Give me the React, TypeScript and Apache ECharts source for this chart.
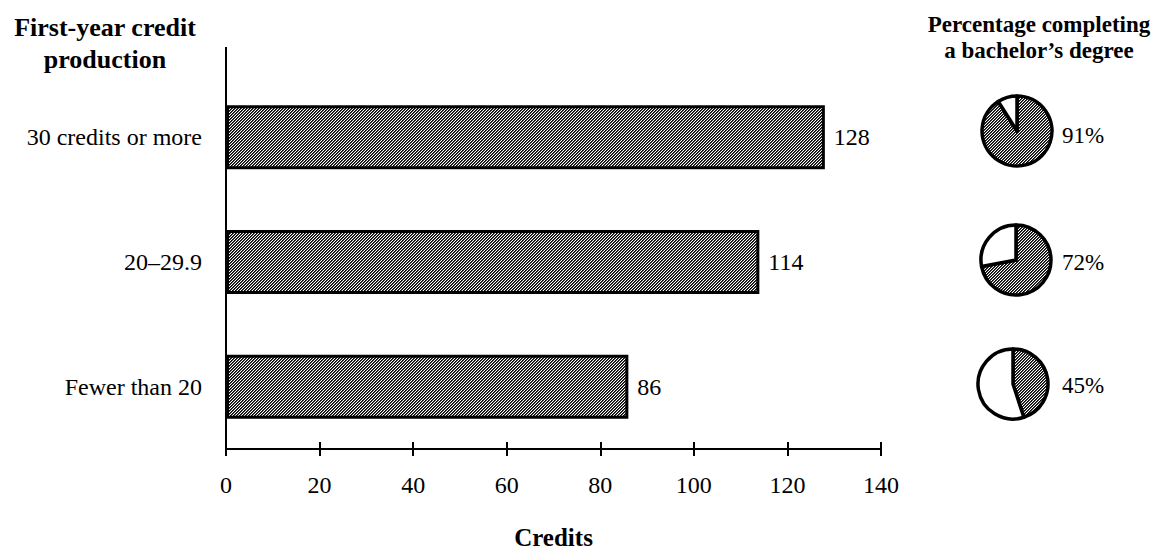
import React, { useEffect, useRef } from "react";
import * as echarts from "echarts";

const categories = ["30 credits or more", "20–29.9", "Fewer than 20"];
const credits = [128, 114, 86];
const completionPct = [91, 72, 45];
const axisMin = 0;
const axisMax = 140;
const axisStep = 20;

const FONT = "'Liberation Serif', 'Times New Roman', serif";
const W = 1153;
const H = 552;
const GRID = { left: 226, right: 272, top: 75, bottom: 103 };
const PIE_R = 35;
const pieCenters: [number, number][] = [
  [1017, 131],
  [1016, 260],
  [1013, 384],
];
const pctLabelPos: [number, number][] = [
  [1062, 135],
  [1062, 262],
  [1062, 385],
];

function makeHatch(): HTMLCanvasElement {
  const c = document.createElement("canvas");
  c.width = 3;
  c.height = 3;
  const ctx = c.getContext("2d")!;
  const img = ctx.createImageData(3, 3);
  for (let y = 0; y < 3; y++) {
    for (let x = 0; x < 3; x++) {
      const k = (x + y) % 3;
      const v = k === 0 ? 0 : k === 1 ? 70 : 255;
      const i = (y * 3 + x) * 4;
      img.data[i] = v;
      img.data[i + 1] = v;
      img.data[i + 2] = v;
      img.data[i + 3] = 255;
    }
  }
  ctx.putImageData(img, 0, 0);
  return c;
}

export default function App() {
  const ref = useRef<HTMLDivElement>(null);

  useEffect(() => {
    document.body.style.margin = "0";
    if (!ref.current) return;
    const chart = echarts.init(ref.current, undefined, { renderer: "svg" });
    const hatch: any = { image: makeHatch(), repeat: "repeat" };

    const pieSeries = completionPct.map((p, i) => ({
      type: "pie",
      center: pieCenters[i],
      radius: PIE_R,
      startAngle: 90,
      clockwise: true,
      silent: true,
      label: { show: false },
      labelLine: { show: false },
      itemStyle: { borderColor: "#000", borderWidth: 3.5 },
      emphasis: { disabled: true },
      data: [
        { value: p, name: "completing", itemStyle: { color: hatch } },
        { value: 100 - p, name: "not completing", itemStyle: { color: "#fff" } },
      ],
    }));

    const pctTexts = completionPct.map((p, i) => ({
      type: "text",
      x: pctLabelPos[i][0],
      y: pctLabelPos[i][1],
      style: {
        text: `${p}%`,
        font: `23px ${FONT}`,
        fill: "#000",
        textAlign: "left",
        textVerticalAlign: "middle",
      },
    }));

    chart.setOption({
      animation: false,
      grid: { ...GRID, containLabel: false, outerBoundsMode: "none" },
      xAxis: [
        {
          type: "value",
          min: axisMin,
          max: axisMax,
          interval: axisStep,
          position: "bottom",
          axisLine: { show: true, lineStyle: { color: "#000", width: 2 } },
          axisTick: { show: true, length: 7, lineStyle: { color: "#000", width: 2 } },
          axisLabel: { color: "#000", fontSize: 24, fontFamily: FONT, margin: 24 },
          splitLine: { show: false },
          name: "Credits",
          nameLocation: "middle",
          nameGap: 76,
          nameTextStyle: { color: "#000", fontSize: 25, fontWeight: "bold", fontFamily: FONT },
        },
        {
          type: "value",
          min: axisMin,
          max: axisMax,
          interval: axisStep,
          position: "bottom",
          axisLine: { show: false },
          axisTick: { show: true, inside: true, length: 7, lineStyle: { color: "#000", width: 2 } },
          axisLabel: { show: false },
          splitLine: { show: false },
        },
      ],
      yAxis: {
        type: "category",
        data: categories,
        inverse: true,
        axisLine: { show: false },
        axisTick: { show: false },
        axisLabel: { color: "#000", fontSize: 24, fontFamily: FONT, margin: 24 },
      },
      series: [
        {
          type: "bar",
          data: credits,
          barWidth: 64,
          silent: true,
          itemStyle: { color: hatch, borderColor: "#000", borderWidth: 3 },
          label: {
            show: true,
            position: "right",
            distance: 9,
            color: "#000",
            fontSize: 24,
            fontFamily: FONT,
          },
        },
        ...pieSeries,
      ],
      graphic: [
        {
          type: "line",
          shape: { x1: GRID.left, y1: 47, x2: GRID.left, y2: 455 },
          style: { stroke: "#000", lineWidth: 2 },
        },
        {
          type: "text",
          x: 105,
          y: 27,
          style: {
            text: "First-year credit",
            font: `bold 26px ${FONT}`,
            fill: "#000",
            textAlign: "center",
            textVerticalAlign: "middle",
          },
        },
        {
          type: "text",
          x: 105,
          y: 59,
          style: {
            text: "production",
            font: `bold 26px ${FONT}`,
            fill: "#000",
            textAlign: "center",
            textVerticalAlign: "middle",
          },
        },
        {
          type: "text",
          x: 1039,
          y: 24,
          style: {
            text: "Percentage completing",
            font: `bold 23px ${FONT}`,
            fill: "#000",
            textAlign: "center",
            textVerticalAlign: "middle",
          },
        },
        {
          type: "text",
          x: 1039,
          y: 50,
          style: {
            text: "a bachelor’s degree",
            font: `bold 23px ${FONT}`,
            fill: "#000",
            textAlign: "center",
            textVerticalAlign: "middle",
          },
        },
        ...pctTexts,
      ],
    });

    return () => chart.dispose();
  }, []);

  return <div ref={ref} style={{ width: W, height: H }} />;
}
